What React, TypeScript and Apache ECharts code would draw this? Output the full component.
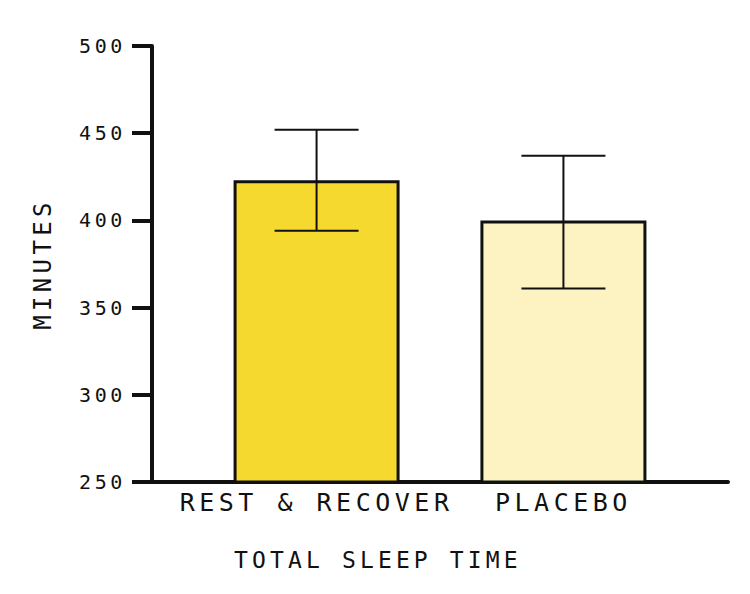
import React, { useEffect, useRef } from 'react';
import * as echarts from 'echarts';

// groups and their place on the x value axis
const categories = ['REST & RECOVER', 'PLACEBO'];
const slots = [2, 5];
// mean total sleep time, minutes
const means = [423, 400];
// error bar ends, minutes
const errLow = [394, 361];
const errHigh = [452, 437];
const barColors = ['#f6d92f', '#fdf3c2'];

const ink = '#111';
const font = "'DejaVu Sans Mono', monospace";

const App = () => {
    const ref = useRef<HTMLDivElement>(null);

    useEffect(() => {
        const chart = echarts.init(ref.current as HTMLDivElement, null, { renderer: 'svg' });
        chart.setOption({
            animation: false,
            backgroundColor: '#fff',
            title: {
                text: 'TOTAL SLEEP TIME',
                left: 229,
                top: 543,
                textStyle: { fontSize: 23, fontWeight: 'normal', fontFamily: font, color: ink }
            },
            grid: { left: 152, right: 22, top: 46, bottom: 112 },
            xAxis: {
                type: 'value',
                min: 0,
                max: 7,
                splitLine: { show: false },
                axisTick: { show: false },
                axisLine: { onZero: false, lineStyle: { color: ink, width: 4 } },
                axisLabel: {
                    customValues: slots,
                    formatter: (v: number) => categories[slots.indexOf(v)] ?? '',
                    margin: 8,
                    fontSize: 25,
                    fontFamily: font,
                    color: ink
                }
            },
            yAxis: {
                type: 'value',
                min: 250,
                max: 500,
                interval: 50,
                name: 'MINUTES',
                nameLocation: 'middle',
                nameGap: 97,
                nameTextStyle: { fontSize: 24, fontFamily: font, color: ink },
                splitLine: { show: false },
                axisLine: { onZero: false, lineStyle: { color: ink, width: 4 } },
                axisTick: { length: 20, lineStyle: { color: ink, width: 4 } },
                axisLabel: { margin: 26, fontSize: 20, fontFamily: font, color: ink }
            },
            series: [
                {
                    type: 'bar',
                    barWidth: 166,
                    itemStyle: { borderColor: ink, borderWidth: 3 },
                    data: means.map((v, i) => ({
                        value: [slots[i], v],
                        itemStyle: { color: barColors[i] }
                    }))
                },
                {
                    type: 'custom',
                    z: 5,
                    encode: { x: 0, y: [1, 2] },
                    data: slots.map((x, i) => [x, errLow[i], errHigh[i]]),
                    renderItem: (params: any, api: any) => {
                        const x = api.value(0);
                        const lo = api.coord([x, api.value(1)]);
                        const hi = api.coord([x, api.value(2)]);
                        const half = 42;
                        const style = { stroke: ink, lineWidth: 2 };
                        return {
                            type: 'group',
                            children: [
                                { type: 'line', shape: { x1: lo[0], y1: lo[1], x2: hi[0], y2: hi[1] }, style },
                                { type: 'line', shape: { x1: lo[0] - half, y1: lo[1], x2: lo[0] + half, y2: lo[1] }, style },
                                { type: 'line', shape: { x1: hi[0] - half, y1: hi[1], x2: hi[0] + half, y2: hi[1] }, style }
                            ]
                        };
                    }
                }
            ]
        });
        return () => chart.dispose();
    }, []);

    return (
        <>
            <style>{'.sleep-chart text { letter-spacing: 0.18em; }'}</style>
            <div
                ref={ref}
                className="sleep-chart"
                style={{ position: 'fixed', left: 0, top: 0, width: 750, height: 594, background: '#fff' }}
            />
        </>
    );
};

export default App;
